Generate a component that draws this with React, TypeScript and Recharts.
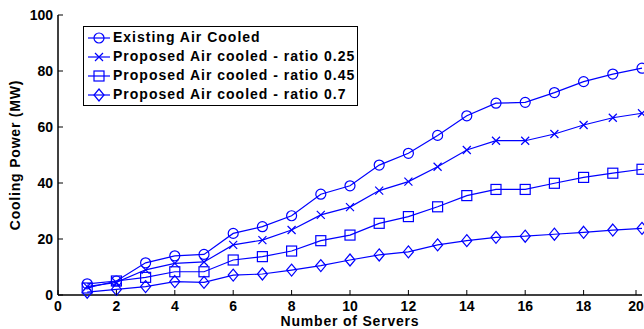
import * as React from 'react';
import { Line, LineChart, XAxis, YAxis } from 'recharts';

const servers = [1, 2, 3, 4, 5, 6, 7, 8, 9, 10, 11, 12, 13, 14, 15, 16, 17, 18, 19, 20];
const existing = [4, 5, 11.5, 14, 14.5, 22, 24.4, 28.3, 36, 39, 46.4, 50.6, 57, 64, 68.5, 68.8, 72.3, 76.2, 78.9, 81];
const ratio025 = [3, 4.5, 9, 11.3, 11.8, 17.9, 19.6, 23.2, 28.6, 31.4, 37.3, 40.5, 45.8, 51.8, 55.1, 55.1, 57.5, 60.7, 63.3, 64.9];
const ratio045 = [2.5, 5, 6.3, 8.3, 8.3, 12.5, 13.7, 15.7, 19.4, 21.4, 25.6, 28, 31.5, 35.5, 37.7, 37.7, 39.9, 42, 43.5, 44.9];
const ratio07 = [1, 2, 3, 4.8, 4.5, 7.1, 7.5, 8.9, 10.5, 12.5, 14.3, 15.4, 17.9, 19.4, 20.6, 21, 21.7, 22.4, 23.2, 23.8];

const xTicks = [0, 2, 4, 6, 8, 10, 12, 14, 16, 18, 20];
const yTicks = [0, 20, 40, 60, 80, 100];

const seriesNames = [
  'Existing Air Cooled',
  'Proposed Air cooled - ratio 0.25',
  'Proposed Air cooled - ratio 0.45',
  'Proposed Air cooled - ratio 0.7',
];

const data = servers.map((s, i) => ({
  servers: s,
  existing: existing[i],
  r025: ratio025[i],
  r045: ratio045[i],
  r07: ratio07[i],
}));

const BLUE = '#0000ff';
const FONT = '"Liberation Sans", Arial, sans-serif';
const TM = 5; // tick margin
const TL = 5; // tick length (inward)

type Kind = 'circle' | 'cross' | 'square' | 'diamond';

function Marker({ kind, cx, cy }: { kind: Kind; cx: number; cy: number }) {
  const p = { fill: 'none', stroke: BLUE, strokeWidth: 1.2 };
  if (kind === 'circle') return <circle cx={cx} cy={cy} r={5} {...p} />;
  if (kind === 'square') return <rect x={cx - 5} y={cy - 5} width={10} height={10} {...p} />;
  if (kind === 'diamond')
    return <path d={`M${cx},${cy - 6} L${cx + 5},${cy} L${cx},${cy + 6} L${cx - 5},${cy} Z`} {...p} />;
  return <path d={`M${cx - 4},${cy - 4} L${cx + 4},${cy + 4} M${cx - 4},${cy + 4} L${cx + 4},${cy - 4}`} {...p} />;
}

const dotFor = (kind: Kind) => (props: any) => (
  <Marker key={`${kind}-${props.index}`} kind={kind} cx={props.cx} cy={props.cy} />
);

const tickText = { fontFamily: FONT, fontSize: 14, fontWeight: 700, fill: '#000' };
const labelStyle = { fontFamily: FONT, fontSize: 14, fontWeight: 700, fill: '#000', letterSpacing: 0.8 };

function LeftTick(props: any) {
  const { x, y, payload } = props;
  return (
    <g>
      <line x1={x + TM} y1={y} x2={x + TM + TL} y2={y} stroke="#000" />
      <text x={x} y={y} dy="0.35em" textAnchor="end" {...tickText}>
        {payload.value}
      </text>
    </g>
  );
}

function BottomTick(props: any) {
  const { x, y, payload } = props;
  return (
    <g>
      <line x1={x} y1={y - TM} x2={x} y2={y - TM - TL} stroke="#000" />
      <text x={x} y={y} dy="0.75em" textAnchor="middle" {...tickText}>
        {payload.value}
      </text>
    </g>
  );
}

function TopTick(props: any) {
  const { x, y } = props;
  return <line x1={x} y1={y + TM} x2={x} y2={y + TM + TL} stroke="#000" />;
}

function RightTick(props: any) {
  const { x, y } = props;
  return <line x1={x - TM} y1={y} x2={x - TM - TL} y2={y} stroke="#000" />;
}

const kinds: Kind[] = ['circle', 'cross', 'square', 'diamond'];

function LegendBox() {
  return (
    <div
      style={{
        position: 'absolute',
        left: 83,
        top: 26,
        width: 270,
        border: '1.5px solid #000',
        background: '#fff',
        padding: '1px 0 1px 3px',
        fontFamily: FONT,
        fontSize: 14,
        fontWeight: 700,
        letterSpacing: 1,
        lineHeight: '19px',
        whiteSpace: 'nowrap',
      }}
    >
      {seriesNames.map((name, i) => (
        <div key={name} style={{ display: 'flex', alignItems: 'center' }}>
          <svg width={24} height={16} style={{ marginRight: 2 }}>
            <line x1={1} y1={8} x2={23} y2={8} stroke={BLUE} strokeWidth={1.2} />
            <Marker kind={kinds[i]} cx={12} cy={8} />
          </svg>
          <span>{name}</span>
        </div>
      ))}
    </div>
  );
}

export default function App() {
  return (
    <div style={{ position: 'absolute', left: 0, top: 0, width: 644, height: 329, background: '#fff' }}>
      <LineChart width={644} height={329} data={data} margin={{ top: 15, right: 2, bottom: 0, left: 0 }}>
        <XAxis
          xAxisId="b"
          dataKey="servers"
          type="number"
          domain={[0, 20]}
          ticks={xTicks}
          tickSize={0}
          tickMargin={TM}
          tick={<BottomTick />}
          tickLine={false}
          axisLine={{ stroke: '#000', strokeWidth: 1.5 }}
          height={34}
          label={{ value: 'Number of Servers', position: 'insideBottom', offset: 3, style: labelStyle }}
        />
        <XAxis
          xAxisId="t"
          orientation="top"
          dataKey="servers"
          type="number"
          domain={[0, 20]}
          ticks={xTicks}
          tickSize={0}
          tickMargin={TM}
          tick={<TopTick />}
          tickLine={false}
          axisLine={{ stroke: '#000', strokeWidth: 1.5 }}
          height={0}
        />
        <YAxis
          yAxisId="l"
          type="number"
          domain={[0, 100]}
          ticks={yTicks}
          tickSize={0}
          tickMargin={TM}
          tick={<LeftTick />}
          tickLine={false}
          axisLine={{ stroke: '#000', strokeWidth: 1.5 }}
          width={58}
          label={{
            value: 'Cooling Power (MW)',
            angle: -90,
            position: 'insideLeft',
            offset: 15,
            style: { ...labelStyle, textAnchor: 'middle' },
          }}
        />
        <YAxis
          yAxisId="r"
          orientation="right"
          type="number"
          domain={[0, 100]}
          ticks={yTicks}
          tickSize={0}
          tickMargin={TM}
          tick={<RightTick />}
          tickLine={false}
          axisLine={{ stroke: '#000', strokeWidth: 1.5 }}
          width={0}
        />
        <Line xAxisId="t" yAxisId="l" dataKey="existing" stroke={BLUE} strokeWidth={1.2} dot={dotFor('circle')} isAnimationActive={false} />
        <Line xAxisId="b" yAxisId="r" dataKey="r025" stroke={BLUE} strokeWidth={1.2} dot={dotFor('cross')} isAnimationActive={false} />
        <Line xAxisId="b" yAxisId="l" dataKey="r045" stroke={BLUE} strokeWidth={1.2} dot={dotFor('square')} isAnimationActive={false} />
        <Line xAxisId="b" yAxisId="l" dataKey="r07" stroke={BLUE} strokeWidth={1.2} dot={dotFor('diamond')} isAnimationActive={false} />
      </LineChart>
      <LegendBox />
    </div>
  );
}
